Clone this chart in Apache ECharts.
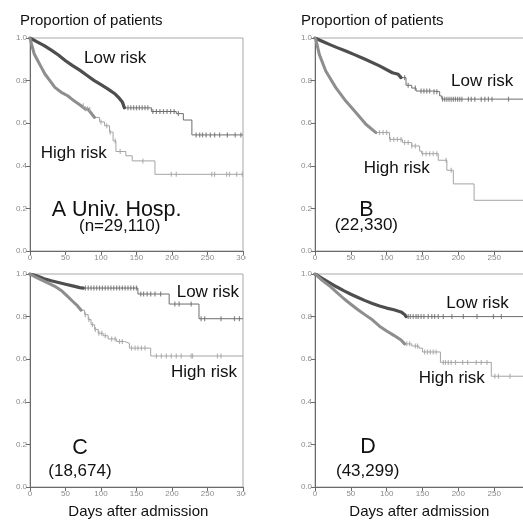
<!DOCTYPE html>
<html>
<head>
<meta charset="utf-8">
<script src="https://cdn.jsdelivr.net/npm/echarts@6/dist/echarts.min.js"></script>
<style>
html,body{margin:0;padding:0;background:#fff;}
#chart{width:523px;height:520px;}
</style>
</head>
<body>
<div id="chart"></div>
<script>
// ---------- data ----------
const xTicks = [0, 50, 100, 150, 200, 250, 300];
const yTicks = [0, 0.2, 0.4, 0.6, 0.8, 1.0];

// Panel A (Univ. Hosp.)
const lowA_days = [0,10,20,30,40,50,60,70,80,90,100,110,120,125,130,133,171,206,216,228];
const lowA_surv = [1,0.982,0.964,0.943,0.92,0.893,0.87,0.849,0.825,0.801,0.781,0.76,0.737,0.72,0.7,0.672,0.655,0.645,0.615,0.545];
const lowA_censor = [138,142,146,150,154,158,162,166,173,178,183,188,193,198,203,209,234,239,243,248,254,260,267,278,289,297];
const highA_days = [0,3,6,11,16,21,28,35,44,53,62,72,77,82,91,98,105,112,117,121,135,144,176];
const highA_surv = [1,0.96,0.925,0.893,0.862,0.831,0.8,0.768,0.745,0.729,0.705,0.682,0.668,0.664,0.627,0.606,0.588,0.558,0.517,0.467,0.447,0.423,0.36];
const highA_censor = [75,78,81,84,100,108,113,120,127,159,199,206,256,260,277,281,291,299];

// Panel B
const lowB_days = [0,10,20,30,43,55,70,90,108,116,120,127,135,141,164,174,177];
const lowB_surv = [1,0.985,0.97,0.956,0.939,0.922,0.9,0.869,0.837,0.83,0.814,0.778,0.765,0.751,0.748,0.728,0.713];
const lowB_censor = [125,130,140,148,152,156,160,166,170,178,181,184,187,190,193,196,199,202,205,214,218,223,232,237,242,247,270];
const highB_days = [0,1.4,6,15,29,43,57,71,85,104,122,135,146,149,172,184,193,222];
const highB_surv = [1,0.99,0.923,0.845,0.767,0.704,0.65,0.595,0.556,0.524,0.509,0.493,0.469,0.457,0.426,0.379,0.315,0.238];
const highB_censor = [90,95,100,105,110,115,120,125,130,135,140,150,155,160,165,170,183,190];

// Panel C
const lowC_days = [0,10,20,30,40,50,60,70,75,152,196,238];
const lowC_surv = [1,0.99,0.978,0.968,0.96,0.952,0.944,0.936,0.934,0.906,0.859,0.79];
const lowC_censor = [78,82,86,90,94,98,102,106,110,114,118,122,126,130,134,138,142,146,150,156,160,165,170,176,184,204,210,227,241,246,269,288,295];
const highC_days = [0,8,16,25,35,45,53,60,67,72,77,82,86,91,96,103,110,122,133,140,170];
const highC_surv = [1,0.985,0.972,0.958,0.942,0.92,0.895,0.872,0.85,0.83,0.809,0.786,0.762,0.74,0.722,0.71,0.695,0.683,0.675,0.652,0.615];
const highC_censor = [78,83,88,92,97,101,106,115,120,126,130,143,148,152,157,162,178,185,192,199,206,213,227,229,264,269];

// Panel D
const lowD_days = [0,10,20,30,40,50,60,70,80,90,100,110,120,125,127];
const lowD_surv = [1,0.98,0.96,0.94,0.922,0.905,0.89,0.875,0.862,0.85,0.84,0.832,0.822,0.81,0.80];
const lowD_censor = [130,133,137,141,144,148,152,158,163,167,172,179,191,207,226,249,260];
const highD_days = [0,5,10,20,30,40,50,60,70,80,90,100,110,120,125,135,145,150,175,246];
const highD_surv = [1,0.985,0.97,0.945,0.915,0.885,0.858,0.832,0.808,0.785,0.755,0.732,0.712,0.69,0.672,0.662,0.652,0.634,0.585,0.52];
const highD_censor = [128,132,140,143,153,157,161,165,169,179,182,186,190,196,206,213,225,232,240,251,256,272];

const panels = [
  {low:[lowA_days,lowA_surv,lowA_censor,133], high:[highA_days,highA_surv,highA_censor,91]},
  {low:[lowB_days,lowB_surv,lowB_censor,120], high:[highB_days,highB_surv,highB_censor,85]},
  {low:[lowC_days,lowC_surv,lowC_censor,75],  high:[highC_days,highC_surv,highC_censor,72]},
  {low:[lowD_days,lowD_surv,lowD_censor,127], high:[highD_days,highD_surv,highD_censor,125]}
];

// ---------- build ----------
const FONT = '"Liberation Sans", Arial, Helvetica, sans-serif';
const grids = [
  {left:30,  top:38,  width:213, height:213},
  {left:315, top:38,  width:215, height:213},
  {left:30,  top:274, width:213, height:213},
  {left:315, top:274, width:215, height:213}
];

function survAt(days, surv, d){
  let v = surv[0];
  for (let i=0;i<days.length;i++){ if (days[i] <= d) v = surv[i]; }
  return v;
}

const xAxes = [], yAxes = [], series = [];
grids.forEach((g, i) => {
  g.show = true; g.borderColor = '#a8a8a8'; g.borderWidth = 1; g.backgroundColor = 'transparent';
  g.containLabel = false; g.outerBoundsMode = 'none';
  xAxes.push({
    type:'value', gridIndex:i, min:xTicks[0], max:xTicks[xTicks.length-1], interval:50,
    axisLine:{show:true, onZero:false, lineStyle:{color:'#6a6a6a', width:1}},
    axisTick:{show:true, length:4, lineStyle:{color:'#6a6a6a'}},
    axisLabel:{color:'#8a8a8a', fontSize:8, fontFamily:FONT, margin:3, showMaxLabel:true},
    splitLine:{show:false}
  });
  yAxes.push({
    type:'value', gridIndex:i, min:yTicks[0], max:yTicks[yTicks.length-1], interval:0.2,
    axisLine:{show:true, lineStyle:{color:'#6a6a6a', width:1}},
    axisTick:{show:true, length:4, lineStyle:{color:'#6a6a6a'}},
    axisLabel:{color:'#8a8a8a', fontSize:8, fontFamily:FONT, margin:3, formatter:v=>v.toFixed(1)},
    splitLine:{show:false}
  });
  const p = panels[i];
  [['low', p.low, '#4e4e4e', '#6e6e6e', 3.2], ['high', p.high, '#8e8e8e', '#a4a4a4', 3]].forEach(([nm, c, denseCol, thinCol, w]) => {
    const [days, surv, cens, denseEnd] = c;
    const pts = days.map((d,k)=>[d, surv[k]]);
    const dense = pts.filter(q=>q[0] <= denseEnd);
    const tail = pts.filter(q=>q[0] >= denseEnd);
    tail.push([xTicks[xTicks.length-1], surv[surv.length-1]]);
    series.push({
      type:'line', xAxisIndex:i, yAxisIndex:i, data:dense, showSymbol:false, smooth:false,
      lineStyle:{color:denseCol, width:w, cap:'round', join:'round'}, z:3, silent:true
    });
    series.push({
      type:'line', xAxisIndex:i, yAxisIndex:i, data:tail, step:'end', showSymbol:false,
      lineStyle:{color:thinCol, width:1}, z:2, silent:true
    });
    series.push({
      type:'scatter', xAxisIndex:i, yAxisIndex:i,
      data:cens.map(d=>[d, survAt(days, surv, d)]),
      symbol:'rect', symbolSize:[1.2,5], itemStyle:{color:thinCol}, z:4, silent:true
    });
  });
});

function txt(x, y, text, size, align){
  return {type:'text', x:x, y:y, z:100,
    style:{text:text, font:size+'px '+FONT, fill:'#111', textAlign:align||'left', textVerticalAlign:'middle', verticalAlign:'middle'}};
}

const graphics = [
  {type:'rect', shape:{x:246, y:253, width:16, height:14}, style:{fill:'#fff'}, z:99},
  {type:'rect', shape:{x:246, y:489, width:16, height:14}, style:{fill:'#fff'}, z:99},
  txt(20, 21, 'Proportion of patients', 15),
  txt(301, 21, 'Proportion of patients', 15),
  txt(84, 58, 'Low risk', 17),
  txt(40.7, 153, 'High risk', 17),
  txt(51.7, 210, 'A Univ. Hosp.', 21.5),
  txt(79, 226.7, '(n=29,110)', 17),
  txt(451, 81.7, 'Low risk', 17),
  txt(363.7, 168, 'High risk', 17),
  txt(366.3, 210, 'B', 21.5, 'center'),
  txt(334.7, 225, '(22,330)', 17),
  txt(176.7, 292.3, 'Low risk', 17),
  txt(171, 372.3, 'High risk', 17),
  txt(80, 447.7, 'C', 21.5, 'center'),
  txt(48.3, 471.7, '(18,674)', 17),
  txt(68.3, 511.7, 'Days after admission', 15),
  txt(446.3, 303.3, 'Low risk', 17),
  txt(418.7, 378.3, 'High risk', 17),
  txt(368, 446.7, 'D', 21.5, 'center'),
  txt(336, 471, '(43,299)', 17),
  txt(349.3, 511.7, 'Days after admission', 15)
];

const chart = echarts.init(document.getElementById('chart'), null, {renderer:'canvas'});
chart.setOption({
  animation:false,
  backgroundColor:'#fff',
  grid:grids,
  xAxis:xAxes,
  yAxis:yAxes,
  series:series,
  graphic:graphics
});
</script>
</body>
</html>
